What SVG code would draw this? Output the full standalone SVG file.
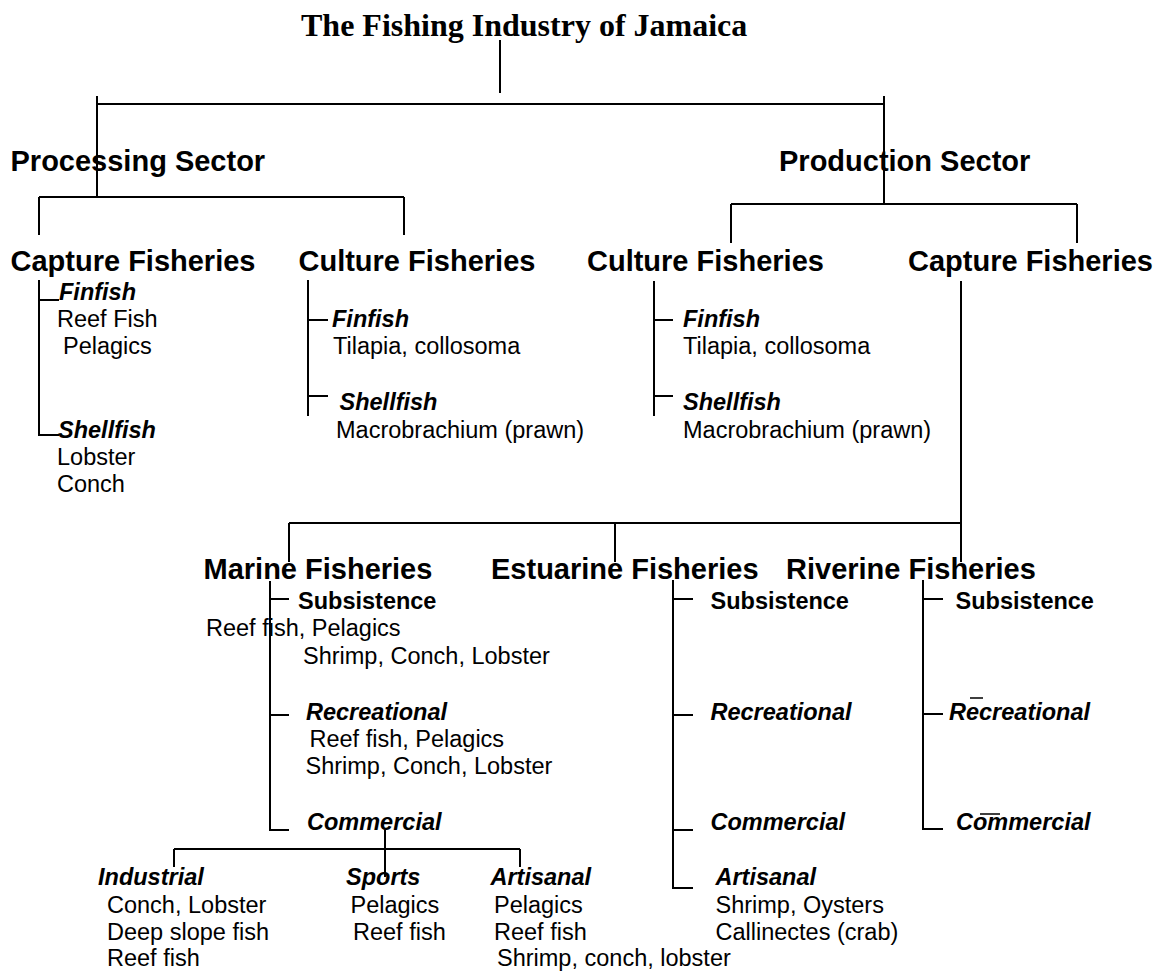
<svg xmlns="http://www.w3.org/2000/svg" width="1159" height="972" viewBox="0 0 1159 972">
<style>
.t{font-family:"Liberation Serif","Times New Roman",serif;font-weight:bold;font-size:32px;fill:#000}
.h{font-family:"Liberation Sans",Arial,sans-serif;font-weight:bold;font-size:29px;fill:#000}
.r{font-family:"Liberation Sans",Arial,sans-serif;font-size:23.5px;fill:#000}
.bi{font-family:"Liberation Sans",Arial,sans-serif;font-weight:bold;font-style:italic;font-size:23.5px;fill:#000}
.bb{font-family:"Liberation Sans",Arial,sans-serif;font-weight:bold;font-size:23.5px;fill:#000}
.c path{fill:none;stroke:#000;stroke-width:2}
</style>
<rect width="1159" height="972" fill="#fff"/>
<g class="c" id="connectors">
<path d="M500 40V93M97 104H884M97 96V197M884 96V204"/>
<path d="M39 197H404M39 197V235M404 197V235"/>
<path d="M731 204H1077M731 204V243M1077 204V243"/>
<path d="M39 280V435H59M39 300H59"/>
<path d="M308 280V416M308 320H328M308 396H328"/>
<path d="M654 281V416M654 320H673M654 396H673"/>
<path d="M961 281V562M289 523H961M289 523V562M615 523V562"/>
<path d="M270 581V830H289M270 599H289M270 715H289"/>
<path d="M385 830V877M174 849H520M174 849V867M520 849V867"/>
<path d="M673 580V888H693M673 599H693M673 715H693M673 830H693"/>
<path d="M923 580V829H943M923 599H943M923 714H943"/>
<path d="M970 698H983M980 814H1000" style="stroke-width:1.5"/>
</g>
<g id="title"><text class="t" x="301" y="36">The Fishing Industry of Jamaica</text></g>
<g id="processing"><text class="h" x="10.5" y="171">Processing Sector</text></g>
<g id="production"><text class="h" x="779" y="171">Production Sector</text></g>
<g id="proc-capture">
<text class="h" x="10.5" y="271">Capture Fisheries</text>
<text class="bi" x="59" y="299.5">Finfish</text>
<text class="r" x="57" y="327">Reef Fish</text>
<text class="r" x="63" y="354">Pelagics</text>
<text class="bi" x="58" y="437.5">Shellfish</text>
<text class="r" x="57" y="464.5">Lobster</text>
<text class="r" x="57" y="491.5">Conch</text>
</g>
<g id="proc-culture">
<text class="h" x="298.5" y="271">Culture Fisheries</text>
<text class="bi" x="332" y="327">Finfish</text>
<text class="r" x="333" y="354">Tilapia, collosoma</text>
<text class="bi" x="339.5" y="410">Shellfish</text>
<text class="r" x="336" y="437.5">Macrobrachium (prawn)</text>
</g>
<g id="prod-culture">
<text class="h" x="587" y="271">Culture Fisheries</text>
<text class="bi" x="683" y="327">Finfish</text>
<text class="r" x="683" y="354">Tilapia, collosoma</text>
<text class="bi" x="683" y="410">Shellfish</text>
<text class="r" x="683" y="437.5">Macrobrachium (prawn)</text>
</g>
<g id="prod-capture"><text class="h" x="908" y="271">Capture Fisheries</text></g>
<g id="marine">
<text class="h" x="203.5" y="578.5">Marine Fisheries</text>
<text class="bb" x="298" y="608.5">Subsistence</text>
<text class="r" x="206" y="636">Reef fish, Pelagics</text>
<text class="r" x="303" y="663.5">Shrimp, Conch, Lobster</text>
<text class="bi" x="306" y="719.5">Recreational</text>
<text class="r" x="309.5" y="746.5">Reef fish, Pelagics</text>
<text class="r" x="305.5" y="773.5">Shrimp, Conch, Lobster</text>
<text class="bi" x="307" y="829.5">Commercial</text>
</g>
<g id="industrial">
<text class="bi" x="98" y="885">Industrial</text>
<text class="r" x="107" y="912.5">Conch, Lobster</text>
<text class="r" x="107" y="939.5">Deep slope fish</text>
<text class="r" x="107" y="966">Reef fish</text>
</g>
<g id="sports">
<text class="bi" x="346" y="885">Sports</text>
<text class="r" x="350.5" y="912.5">Pelagics</text>
<text class="r" x="353" y="939.5">Reef fish</text>
</g>
<g id="artisanal-marine">
<text class="bi" x="490.5" y="885">Artisanal</text>
<text class="r" x="494" y="912.5">Pelagics</text>
<text class="r" x="494" y="939.5">Reef fish</text>
<text class="r" x="497" y="966">Shrimp, conch, lobster</text>
</g>
<g id="estuarine">
<text class="h" x="491" y="578.5">Estuarine Fisheries</text>
<text class="bb" x="710.5" y="608.5">Subsistence</text>
<text class="bi" x="710.5" y="719.5">Recreational</text>
<text class="bi" x="710.5" y="829.5">Commercial</text>
<text class="bi" x="715.5" y="885">Artisanal</text>
<text class="r" x="715.5" y="912.5">Shrimp, Oysters</text>
<text class="r" x="715.5" y="939.5">Callinectes (crab)</text>
</g>
<g id="riverine">
<text class="h" x="786" y="578.5">Riverine Fisheries</text>
<text class="bb" x="955.5" y="608.5">Subsistence</text>
<text class="bi" x="949" y="719.5">Recreational</text>
<text class="bi" x="956" y="829.5">Commercial</text>
</g>
</svg>
